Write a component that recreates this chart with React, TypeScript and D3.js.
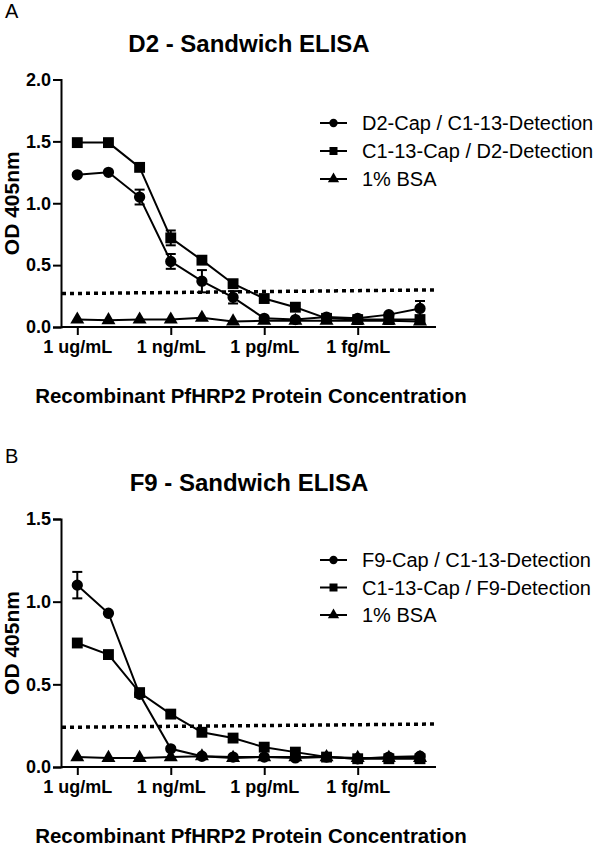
import * as d3 from "d3";
import {useRef, useEffect} from "react";

// log10 of concentration (g/mL), tenfold serial dilutions
const concLog = [-6, -7, -8, -9, -10, -11, -12, -13, -14, -15, -16, -17];
const tickConc = [-6, -9, -12, -15];
const tickLabels = ["1 ug/mL", "1 ng/mL", "1 pg/mL", "1 fg/mL"];

// Panel A - D2
const d2CapMean = [1.23, 1.25, 1.05, 0.53, 0.37, 0.24, 0.07, 0.06, 0.08, 0.07, 0.10, 0.15];
const d2CapErr = [0.01, 0.01, 0.06, 0.06, 0.09, 0.05, 0.01, 0.01, 0.01, 0.01, 0.01, 0.06];
const c113CapD2Mean = [1.49, 1.49, 1.29, 0.72, 0.54, 0.35, 0.23, 0.16, 0.07, 0.06, 0.06, 0.06];
const c113CapD2Err = [0.01, 0.01, 0.02, 0.06, 0.02, 0.03, 0.02, 0.01, 0.01, 0.01, 0.01, 0.03];
const bsaAMean = [0.06, 0.055, 0.06, 0.06, 0.075, 0.045, 0.05, 0.05, 0.05, 0.05, 0.05, 0.045];
const cutoffA = [0.27, 0.30];

// Panel B - F9
const f9CapMean = [1.10, 0.93, 0.44, 0.11, 0.065, 0.06, 0.06, 0.055, 0.06, 0.05, 0.06, 0.065];
const f9CapErr = [0.08, 0.01, 0.01, 0.01, 0.01, 0.01, 0.01, 0.01, 0.01, 0.01, 0.01, 0.01];
const c113CapF9Mean = [0.75, 0.68, 0.45, 0.32, 0.21, 0.175, 0.12, 0.09, 0.06, 0.05, 0.05, 0.05];
const c113CapF9Err = [0.01, 0.01, 0.01, 0.01, 0.01, 0.01, 0.01, 0.01, 0.01, 0.01, 0.01, 0.01];
const bsaBMean = [0.06, 0.055, 0.055, 0.06, 0.065, 0.055, 0.06, 0.06, 0.06, 0.055, 0.055, 0.055];
const cutoffB = [0.24, 0.26];

const FONT = "'Liberation Sans', Arial, sans-serif";

const panels = [
    {
        letter: "A", title: "D2 - Sandwich ELISA", yMax: 2.0, yTicks: [0, 0.5, 1.0, 1.5, 2.0],
        top: 79.5, bottom: 327, letterY: 18, titleY: 52, tickLabelY: 353, axisTitleY: 403,
        legendY: [123, 151, 179], cutoff: cutoffA,
        series: [
            {name: "D2-Cap / C1-13-Detection", symbol: d3.symbolCircle, mean: d2CapMean, err: d2CapErr},
            {name: "C1-13-Cap / D2-Detection", symbol: d3.symbolSquare, mean: c113CapD2Mean, err: c113CapD2Err},
            {name: "1% BSA", symbol: d3.symbolTriangle, mean: bsaAMean, err: null},
        ],
    },
    {
        letter: "B", title: "F9 - Sandwich ELISA", yMax: 1.5, yTicks: [0, 0.5, 1.0, 1.5],
        top: 519, bottom: 767, letterY: 463, titleY: 491, tickLabelY: 793, axisTitleY: 843,
        legendY: [560, 587.5, 615], cutoff: cutoffB,
        series: [
            {name: "F9-Cap / C1-13-Detection", symbol: d3.symbolCircle, mean: f9CapMean, err: f9CapErr},
            {name: "C1-13-Cap / F9-Detection", symbol: d3.symbolSquare, mean: c113CapF9Mean, err: c113CapF9Err},
            {name: "1% BSA", symbol: d3.symbolTriangle, mean: bsaBMean, err: null},
        ],
    },
];

const markerSize = (s: any) => s === d3.symbolCircle ? 100 : s === d3.symbolSquare ? 118 : 85;
const legendSize = (s: any) => s === d3.symbolCircle ? 55 : s === d3.symbolSquare ? 64 : 55;

const App = () => {
    const ref = useRef<SVGSVGElement>(null);

    useEffect(() => {
        const svg = d3.select(ref.current);
        svg.selectAll("*").remove();

        const axisLeft = 61, axisRight = 436;
        const x = d3.scaleLinear().domain([-6, -17]).range([77.3, 420]);

        panels.forEach(p => {
            const y = d3.scaleLinear().domain([0, p.yMax]).range([p.bottom, p.top]);
            const g = svg.append("g");

            g.append("text").attr("x", 5).attr("y", p.letterY)
                .attr("font-size", 20).text(p.letter);

            g.append("text").attr("x", 249).attr("y", p.titleY)
                .attr("text-anchor", "middle").attr("font-size", 24)
                .attr("font-weight", "bold").text(p.title);

            // y axis
            g.append("g")
                .attr("transform", `translate(${axisLeft},0)`)
                .call(d3.axisLeft(y).tickValues(p.yTicks).tickFormat(d3.format(".1f")).tickSize(8).tickPadding(2))
                .call(a => a.select(".domain").attr("stroke-width", 2))
                .call(a => a.selectAll(".tick line").attr("stroke-width", 2))
                .call(a => a.selectAll(".tick text").attr("font-size", 18).attr("font-weight", "bold")
                    .attr("font-family", FONT).attr("fill", "#000"));

            // x axis
            g.append("line")
                .attr("x1", axisLeft).attr("x2", axisRight)
                .attr("y1", p.bottom).attr("y2", p.bottom)
                .attr("stroke", "#000").attr("stroke-width", 2);
            g.append("g")
                .attr("transform", `translate(0,${p.bottom})`)
                .call(d3.axisBottom(x).tickValues(tickConc)
                    .tickFormat((d, i) => tickLabels[i]).tickSize(8).tickPadding(6))
                .call(a => a.select(".domain").remove())
                .call(a => a.selectAll(".tick line").attr("stroke-width", 2))
                .call(a => a.selectAll(".tick text").attr("font-size", 18).attr("font-weight", "bold")
                    .attr("font-family", FONT).attr("fill", "#000").attr("dy", null)
                    .attr("y", p.tickLabelY - p.bottom));

            g.append("text")
                .attr("transform", `translate(19,${(p.top + p.bottom) / 2}) rotate(-90)`)
                .attr("text-anchor", "middle").attr("font-size", 21).attr("font-weight", "bold")
                .text("OD 405nm");

            g.append("text").attr("x", 251).attr("y", p.axisTitleY)
                .attr("text-anchor", "middle").attr("font-size", 20.5).attr("font-weight", "bold")
                .text("Recombinant PfHRP2 Protein Concentration");

            // cutoff line
            g.append("line")
                .attr("x1", axisLeft + 1).attr("x2", axisRight)
                .attr("y1", y(p.cutoff[0])).attr("y2", y(p.cutoff[1]))
                .attr("stroke", "#000").attr("stroke-width", 3.5).attr("stroke-dasharray", "4,4");

            const line = d3.line<number>().x((d, i) => x(concLog[i])).y(d => y(d));

            p.series.slice().reverse().forEach(s => {
                g.append("path").datum(s.mean).attr("d", line)
                    .attr("fill", "none").attr("stroke", "#000").attr("stroke-width", 2);

                if (s.err) {
                    const eb = g.append("g").attr("stroke", "#000").attr("stroke-width", 2);
                    s.mean.forEach((m, i) => {
                        const e = s.err![i];
                        if (e < 0.03) return;
                        const cx = x(concLog[i]);
                        eb.append("line").attr("x1", cx).attr("x2", cx).attr("y1", y(m - e)).attr("y2", y(m + e));
                        eb.append("line").attr("x1", cx - 5).attr("x2", cx + 5).attr("y1", y(m - e)).attr("y2", y(m - e));
                        eb.append("line").attr("x1", cx - 5).attr("x2", cx + 5).attr("y1", y(m + e)).attr("y2", y(m + e));
                    });
                }

                g.append("g").selectAll("path").data(s.mean).join("path")
                    .attr("transform", (d, i) => `translate(${x(concLog[i])},${y(d)})`)
                    .attr("d", d3.symbol(s.symbol, markerSize(s.symbol)))
                    .attr("fill", "#000");
            });

            // legend
            const leg = g.append("g");
            p.series.forEach((s, i) => {
                const ly = p.legendY[i];
                leg.append("line").attr("x1", 320).attr("x2", 347).attr("y1", ly).attr("y2", ly)
                    .attr("stroke", "#000").attr("stroke-width", 2);
                leg.append("path").attr("transform", `translate(333.5,${ly})`)
                    .attr("d", d3.symbol(s.symbol, legendSize(s.symbol))).attr("fill", "#000");
                leg.append("text").attr("x", 362).attr("y", ly + 7)
                    .attr("font-size", 20).text(s.name);
            });
        });
    }, []);

    return (
        <div style={{position: "absolute", left: 0, top: 0}}>
            <svg ref={ref} width={600} height={847} style={{display: "block", background: "#fff"}}
                 fontFamily={FONT}/>
        </div>
    );
};

export default App;
